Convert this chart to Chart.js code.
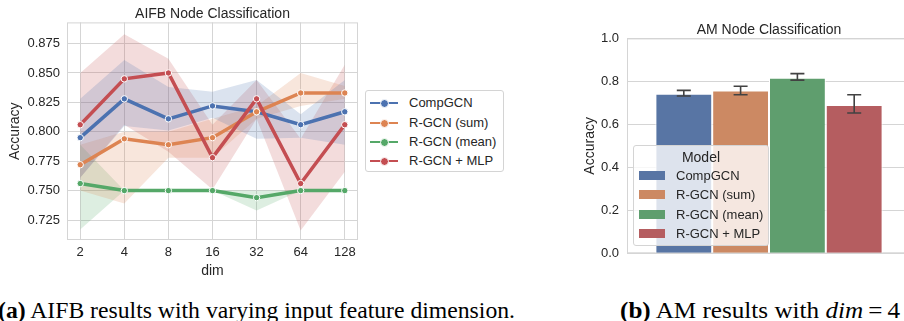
<!DOCTYPE html>
<html>
<head>
<meta charset="utf-8">
<script src="https://cdn.jsdelivr.net/npm/chart.js@4/dist/chart.umd.min.js"></script>
<style>
  html, body { margin:0; padding:0; background:#fff; }
  body { width:904px; height:321px; overflow:hidden; position:relative; font-family:"Liberation Sans", Arial, sans-serif; color:#262626; }
  .pane { position:absolute; top:0; }
  .legend { position:absolute; border:1px solid #d4d4d4; border-radius:3px; box-sizing:border-box; font-size:13px; }
  .legend .row { position:absolute; left:0; right:0; height:16px; line-height:16px; }
  .legend .row span { position:absolute; white-space:nowrap; }
  .cap { position:absolute; font-family:"Liberation Serif", "Times New Roman", serif; font-size:23.5px; white-space:nowrap; color:#000; transform-origin:0 0; }
</style>
</head>
<body>
<div class="pane" style="left:0"><canvas id="aifb" width="365" height="290"></canvas></div>
<div class="pane" style="left:560px"><canvas id="am" width="360" height="290"></canvas></div>
<div class="legend" id="legA" style="left:365px; top:90px; width:139px; height:82px;"></div>
<div class="legend" id="legB" style="left:633px; top:145px; width:136px; height:101px; background:rgba(255,255,255,0.8);"></div>
<div class="cap" id="capA" style="left:-2px; top:297px;"><b>(a)</b> AIFB results with varying input feature dimension.</div>
<div class="cap" id="capB" style="left:620px; top:297px;"><b>(b)</b> AM results with <i>dim</i>&#8201;=&#8201;4</div>
<script>
// ── data ───────────────────────────────────────────────────────────────────
const DIMS   = ["2","4","8","16","32","64","128"];
const MODELS = ["CompGCN","R-GCN (sum)","R-GCN (mean)","R-GCN + MLP"];

// AIFB accuracy by dim (mean line + shaded interval)
const AIFB_COMPGCN    = [0.795,0.828,0.811,0.822,0.817,0.806,0.817];
const AIFB_COMPGCN_LO = [0.761,0.805,0.801,0.812,0.794,0.795,0.789];
const AIFB_COMPGCN_HI = [0.828,0.861,0.838,0.834,0.844,0.815,0.844];
const AIFB_SUM        = [0.772,0.794,0.789,0.795,0.817,0.833,0.833];
const AIFB_SUM_LO     = [0.750,0.739,0.778,0.778,0.811,0.822,0.828];
const AIFB_SUM_HI     = [0.789,0.800,0.800,0.811,0.822,0.850,0.839];
const AIFB_MEAN       = [0.756,0.750,0.750,0.750,0.744,0.750,0.750];
const AIFB_MEAN_LO    = [0.717,0.750,0.750,0.750,0.733,0.750,0.750];
const AIFB_MEAN_HI    = [0.789,0.750,0.750,0.750,0.750,0.750,0.750];
const AIFB_MLP        = [0.806,0.845,0.850,0.778,0.828,0.756,0.806];
const AIFB_MLP_LO     = [0.761,0.806,0.783,0.751,0.811,0.716,0.766];
const AIFB_MLP_HI     = [0.850,0.883,0.862,0.806,0.844,0.794,0.857];
const AIFB_Y_TICKS    = [0.725,0.750,0.775,0.800,0.825,0.850,0.875];

// AM accuracy at dim = 4 (bar + error interval)
const AM_ACC = [0.742,0.757,0.817,0.690];
const AM_LO  = [0.732,0.738,0.806,0.653];
const AM_HI  = [0.758,0.777,0.836,0.738];
const AM_Y_TICKS = [0,0.2,0.4,0.6,0.8,1.0];

const LINE_COL = ["#4c72b0","#dd8452","#55a868","#c44e52"];
const BAND_COL = ["rgba(76,114,176,0.2)","rgba(221,132,82,0.2)","rgba(85,168,104,0.2)","rgba(196,78,82,0.2)"];
const BAR_COL  = ["#5875a4","#cc8963","#5f9e6e","#b55d60"];
const GRID = "#d5d5d5", TXT = "#262626";
const FONT = "'Liberation Sans', Arial, sans-serif";

// frame round the plot area, like the axes spines
const frame = {
  id:"frame",
  beforeDatasetsDraw(chart){
    const { ctx, chartArea:a } = chart;
    ctx.save(); ctx.strokeStyle = GRID; ctx.lineWidth = 1;
    ctx.strokeRect(a.left + 0.5, a.top + 0.5, a.right - a.left - 1, a.bottom - a.top - 1);
    ctx.restore();
  }
};

// ── chart a: AIFB lines ────────────────────────────────────────────────────
const series = [
  [AIFB_COMPGCN, AIFB_COMPGCN_LO, AIFB_COMPGCN_HI],
  [AIFB_SUM, AIFB_SUM_LO, AIFB_SUM_HI],
  [AIFB_MEAN, AIFB_MEAN_LO, AIFB_MEAN_HI],
  [AIFB_MLP, AIFB_MLP_LO, AIFB_MLP_HI],
];
const xy = arr => arr.map((v, i) => ({ x:i, y:v }));
const datasets = [];
series.forEach(([, lo, hi], i) => {
  const band = { borderColor:"transparent", borderWidth:0, pointRadius:0, order:20 };
  datasets.push({ ...band, data:xy(lo), fill:false });
  datasets.push({ ...band, data:xy(hi), fill:"-1", backgroundColor:BAND_COL[i] });
});
series.forEach(([mean], i) => datasets.push({
  label:MODELS[i], data:xy(mean), borderColor:LINE_COL[i], borderWidth:3.5,
  pointRadius:3.2, pointBackgroundColor:LINE_COL[i], pointBorderColor:"#fff", pointBorderWidth:1,
  fill:false, order:3 - i,
}));

new Chart(document.getElementById("aifb"), {
  type:"line",
  data:{ datasets },
  plugins:[frame],
  options:{
    responsive:false, animation:false, devicePixelRatio:1,
    layout:{ padding:{ left:0, right:7, top:0, bottom:6.6 } },
    plugins:{
      legend:{ display:false }, tooltip:{ enabled:false },
      title:{ display:true, text:"AIFB Node Classification", color:TXT, fullSize:false,
        font:{ family:FONT, size:14, weight:"normal" }, padding:{ top:5.6, bottom:0 } },
    },
    scales:{
      x:{ type:"linear", min:-0.3, max:6.3,
        afterBuildTicks: s => { s.ticks = DIMS.map((_, i) => ({ value:i })); },
        ticks:{ callback: v => DIMS[v], color:TXT, font:{ family:FONT, size:13 }, padding:5 },
        grid:{ color:GRID, drawTicks:false }, border:{ display:false },
        title:{ display:true, text:"dim", color:TXT, font:{ family:FONT, size:14 }, padding:{ top:-3, bottom:4 } } },
      y:{ min:0.708, max:0.893,
        afterBuildTicks: s => { s.ticks = AIFB_Y_TICKS.map(v => ({ value:v })); },
        afterFit: s => { s.width = 67; },
        ticks:{ callback: v => v.toFixed(3), color:TXT, font:{ family:FONT, size:13 }, padding:7 },
        grid:{ color:GRID, drawTicks:false }, border:{ display:false },
        title:{ display:true, text:"Accuracy", color:TXT, font:{ family:FONT, size:14 }, padding:{ top:6.6, bottom:0 } } },
    },
  },
});

// ── chart b: AM bars ───────────────────────────────────────────────────────
const errBars = {
  id:"errBars",
  afterDatasetsDraw(chart){
    const { ctx } = chart, y = chart.scales.y;
    ctx.save(); ctx.strokeStyle = "#424242"; ctx.lineWidth = 1.6;
    chart.data.datasets.forEach((ds, i) => {
      const bar = chart.getDatasetMeta(i).data[0];
      const x = bar.x, y0 = y.getPixelForValue(AM_LO[i]), y1 = y.getPixelForValue(AM_HI[i]);
      ctx.beginPath();
      ctx.moveTo(x, y0); ctx.lineTo(x, y1);
      ctx.moveTo(x - 7, y0); ctx.lineTo(x + 7, y0);
      ctx.moveTo(x - 7, y1); ctx.lineTo(x + 7, y1);
      ctx.stroke();
    });
    ctx.restore();
  }
};

new Chart(document.getElementById("am"), {
  type:"bar",
  data:{ labels:[""], datasets: MODELS.map((m, i) => ({
    label:m, data:[AM_ACC[i]], backgroundColor:BAR_COL[i], borderColor:"#fff", borderWidth:1,
    categoryPercentage:0.8, barPercentage:1.0,
  })) },
  plugins:[frame, errBars],
  options:{
    responsive:false, animation:false, devicePixelRatio:1,
    layout:{ padding:{ left:0, right:9, top:0, bottom:28.7 } },
    plugins:{
      legend:{ display:false }, tooltip:{ enabled:false },
      title:{ display:true, text:"AM Node Classification", color:TXT, fullSize:false,
        font:{ family:FONT, size:14, weight:"normal" }, padding:{ top:21.6, bottom:0 } },
    },
    scales:{
      x:{ ticks:{ display:false }, grid:{ display:false }, border:{ display:false } },
      y:{ min:0, max:1,
        afterBuildTicks: s => { s.ticks = AM_Y_TICKS.map(v => ({ value:v })); },
        afterFit: s => { s.width = 67; },
        ticks:{ callback: v => v.toFixed(1), color:TXT, font:{ family:FONT, size:13 }, padding:8 },
        grid:{ color:GRID, drawTicks:false }, border:{ display:false },
        title:{ display:true, text:"Accuracy", color:TXT, font:{ family:FONT, size:14 }, padding:{ top:21.6, bottom:0 } } },
    },
  },
});

// ── legends ────────────────────────────────────────────────────────────────
const legA = document.getElementById("legA");
[11.7, 31.7, 51, 70].forEach((cy, i) => {
  legA.innerHTML += `<div class="row" style="top:${cy - 8}px">
    <span style="left:4px; top:7px; width:28px; height:2px; background:${LINE_COL[i]}"></span>
    <span style="left:14px; top:4px; width:7px; height:7px; border-radius:50%; background:${LINE_COL[i]}; border:0.5px solid #fff"></span>
    <span style="left:43px; top:0">${MODELS[i]}</span></div>`;
});
const legB = document.getElementById("legB");
legB.innerHTML = `<div class="row" style="top:3px; font-size:14px; text-align:center"><span style="left:0; right:0">Model</span></div>`;
[30, 49.3, 69.3, 88.3].forEach((cy, i) => {
  legB.innerHTML += `<div class="row" style="top:${cy - 8}px">
    <span style="left:5px; top:3px; width:26px; height:9px; background:${BAR_COL[i]}"></span>
    <span style="left:42px; top:0">${MODELS[i]}</span></div>`;
});

// ── captions: stretch to the measured widths ───────────────────────────────
[["capA", 517], ["capB", 280]].forEach(([id, w]) => {
  const el = document.getElementById(id);
  el.style.transform = `scaleX(${w / el.getBoundingClientRect().width})`;
});
</script>
</body>
</html>
